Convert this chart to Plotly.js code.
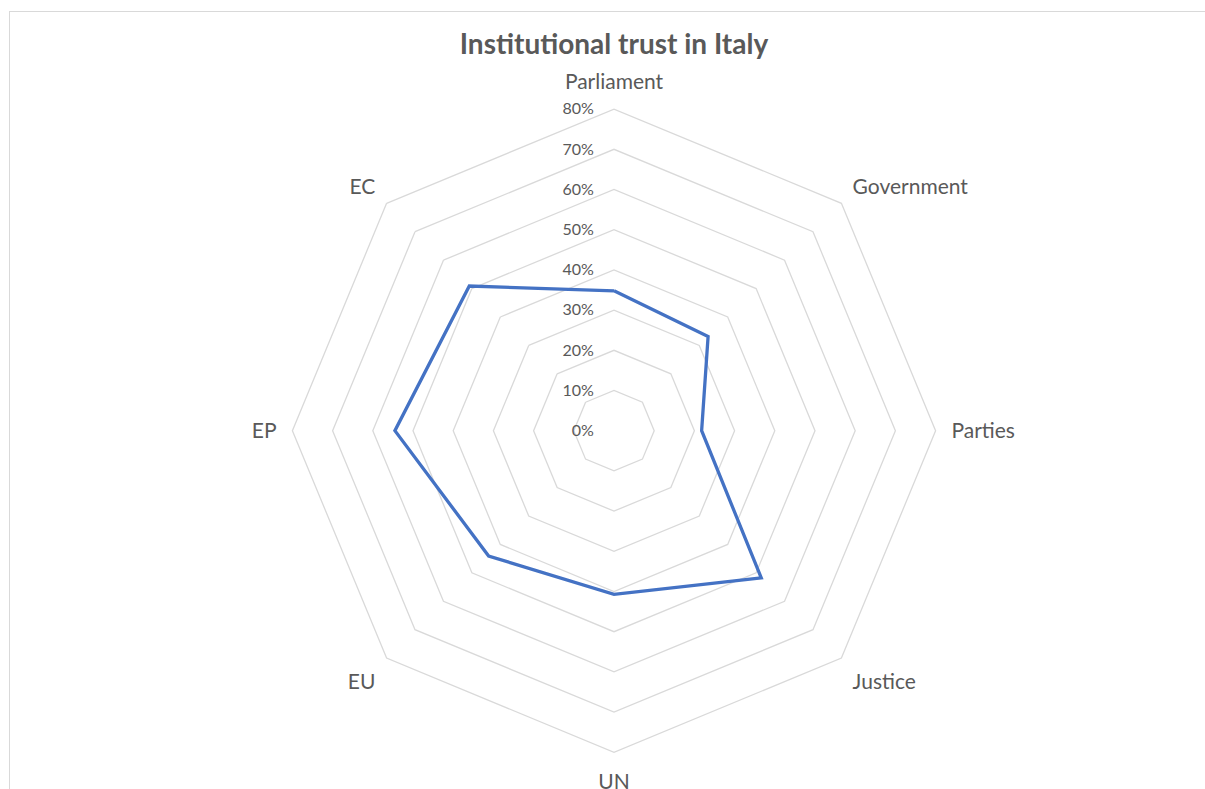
<!DOCTYPE html>
<html>
<head>
<meta charset="utf-8">
<script src="https://cdn.plot.ly/plotly-3.0.1.min.js"></script>
<style>
  html, body { margin: 0; padding: 0; background: #ffffff; overflow: hidden; }
  #frame { position: absolute; left: 9px; top: 11px; width: 1400px; height: 1000px;
           border-top: 1.5px solid #d9d9d9; border-left: 1.5px solid #d9d9d9; }
  #chart { position: absolute; left: 0; top: 0; width: 1205px; height: 789px; }
</style>
</head>
<body>
<div id="frame"></div>
<div id="chart"></div>
<script>
const categories = ["Parliament", "Government", "Parties", "Justice", "UN", "EU", "EP", "EC"];
const trustValues = [0.348, 0.331, 0.218, 0.518, 0.407, 0.441, 0.545, 0.509];
const tickValues = [0, 0.1, 0.2, 0.3, 0.4, 0.5, 0.6, 0.7, 0.8];
const tickLabels = ["0%", "10%", "20%", "30%", "40%", "50%", "60%", "70%", "80%"];

const W = 1205, H = 789;
const cx = 614, cy = 430.7, R = 321.6;

const trace = {
  type: "scatterpolar",
  mode: "lines",
  r: trustValues.concat([trustValues[0]]),
  theta: categories.concat([categories[0]]),
  line: { color: "#4472C4", width: 3.3 },
  hoverinfo: "skip",
  showlegend: false
};

const layout = {
  width: W, height: H,
  margin: { l: 0, r: 0, t: 0, b: 0 },
  paper_bgcolor: "rgba(0,0,0,0)",
  plot_bgcolor: "rgba(0,0,0,0)",
  title: {
    text: "<b>Institutional trust in Italy</b>",
    font: { family: "Lato, 'Open Sans', sans-serif", size: 28, color: "#595959" },
    x: cx / W, xanchor: "center", xref: "paper",
    y: 1 - 44 / H, yanchor: "middle", yref: "container"
  },
  polar: {
    domain: { x: [(cx - R) / W, (cx + R) / W], y: [1 - (cy + R) / H, 1 - (cy - R) / H] },
    bgcolor: "rgba(0,0,0,0)",
    gridshape: "linear",
    radialaxis: {
      range: [0, 0.8],
      tickvals: tickValues,
      ticktext: tickLabels,
      angle: 90,
      tickangle: 90,
      side: "counterclockwise",
      showline: false,
      ticks: "outside",
      ticklen: 14,
      tickcolor: "rgba(0,0,0,0)",
      gridcolor: "#d9d9d9",
      gridwidth: 1.3,
      tickfont: { family: "Lato, 'Open Sans', sans-serif", size: 16, color: "#595959" }
    },
    angularaxis: {
      rotation: 90,
      direction: "clockwise",
      showgrid: false,
      showline: true,
      linecolor: "#d9d9d9",
      linewidth: 1.3,
      ticks: "outside",
      ticklen: 11,
      tickcolor: "rgba(0,0,0,0)",
      tickfont: { family: "Lato, 'Open Sans', sans-serif", size: 21, color: "#595959" }
    }
  }
};

Plotly.newPlot("chart", [trace], layout, { displayModeBar: false, staticPlot: true });
</script>
</body>
</html>
